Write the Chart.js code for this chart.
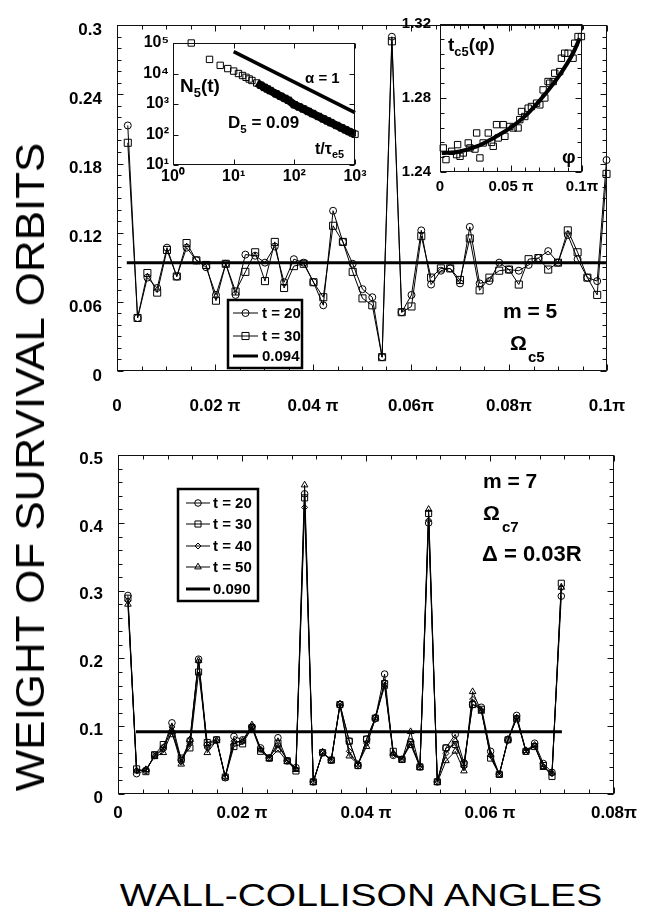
<!DOCTYPE html>
<html>
<head>
<meta charset="utf-8">
<script src="https://cdn.jsdelivr.net/npm/chart.js"></script>
<style>
  body { margin: 0; background: #fff; width: 665px; height: 920px; position: relative; overflow: hidden;
         font-family: "Liberation Sans", Arial, sans-serif; color: #000; }
  canvas { position: absolute; }
  .t { position: absolute; white-space: nowrap; font-weight: bold; line-height: 1; }
  .t sub { font-size: 0.68em; vertical-align: -0.4em; line-height: 0; }
  .title { position: absolute; white-space: nowrap; line-height: 1; font-weight: normal; }
</style>
</head>
<body>
<canvas id="top" width="665" height="440" style="left:0;top:0"></canvas>
<canvas id="bottom" width="665" height="440" style="left:0;top:430px"></canvas>
<canvas id="inset1" width="270" height="190" style="left:100px;top:20px"></canvas>
<canvas id="inset2" width="285" height="220" style="left:380px;top:0"></canvas>

<div class="title" style="left:30px;top:467px;font-size:40px;transform:translate(-50%,-50%) rotate(-90deg) scaleX(1.1)">WEIGHT OF SURVIVAL ORBITS</div>
<div class="title" style="left:361px;top:895px;font-size:32px;transform:translate(-50%,-50%) scaleX(1.22)">WALL-COLLISON ANGLES</div>

<div class="t" style="left:503px;top:300px;font-size:21px">m = 5</div>
<div class="t" style="left:510px;top:332px;font-size:21px">Ω</div>
<div class="t" style="left:528px;top:349px;font-size:15px">c5</div>

<div class="t" style="left:483px;top:470px;font-size:21px">m = 7</div>
<div class="t" style="left:483px;top:502px;font-size:21px">Ω</div>
<div class="t" style="left:502px;top:519px;font-size:15px">c7</div>
<div class="t" style="left:482px;top:543px;font-size:22px">Δ = 0.03R</div>

<div class="t" style="left:180px;top:76px;font-size:19px">N<sub>5</sub>(t)</div>
<div class="t" style="left:305px;top:70px;font-size:15px">α = 1</div>
<div class="t" style="left:228px;top:114px;font-size:17px">D<sub>5</sub> = 0.09</div>
<div class="t" style="left:315px;top:141px;font-size:16px">t/τ<sub>e5</sub></div>

<div class="t" style="left:448px;top:35px;font-size:19px">t<sub>c5</sub>(φ)</div>
<div class="t" style="left:562px;top:147px;font-size:19px">φ</div>

<script>
// top panel, m = 5 (angles in units of pi)
const topAngle = [0.0022, 0.0042, 0.0062, 0.0082, 0.0102, 0.0122, 0.0142, 0.0162, 0.0182, 0.0202,
  0.0222, 0.0242, 0.0262, 0.0282, 0.0302, 0.0322, 0.0341, 0.0361, 0.0381, 0.0401,
  0.0421, 0.0441, 0.0461, 0.0481, 0.0501, 0.0521, 0.0541, 0.0561, 0.0581, 0.0601,
  0.0621, 0.0641, 0.0661, 0.0680, 0.0700, 0.0720, 0.0740, 0.0760, 0.0780, 0.0800,
  0.0820, 0.0840, 0.0860, 0.0880, 0.0900, 0.0920, 0.0940, 0.0960, 0.0980, 0.0999];
const topT20 = [0.213, 0.046, 0.081, 0.072, 0.107, 0.082, 0.107, 0.096, 0.090, 0.066,
  0.093, 0.066, 0.101, 0.100, 0.094, 0.108, 0.077, 0.097, 0.094, 0.077,
  0.057, 0.139, 0.112, 0.093, 0.071, 0.064, 0.012, 0.290, 0.051, 0.066,
  0.122, 0.075, 0.087, 0.089, 0.076, 0.125, 0.076, 0.078, 0.094, 0.088,
  0.087, 0.092, 0.098, 0.104, 0.094, 0.118, 0.097, 0.081, 0.078, 0.183];
const topT30 = [0.198, 0.046, 0.085, 0.068, 0.105, 0.082, 0.111, 0.096, 0.092, 0.061,
  0.093, 0.069, 0.086, 0.103, 0.078, 0.112, 0.072, 0.091, 0.093, 0.077,
  0.064, 0.126, 0.112, 0.086, 0.063, 0.057, 0.012, 0.286, 0.051, 0.056,
  0.117, 0.081, 0.089, 0.089, 0.079, 0.115, 0.070, 0.081, 0.087, 0.088,
  0.075, 0.097, 0.098, 0.088, 0.094, 0.122, 0.103, 0.081, 0.066, 0.171];
const topMean = 0.094;
const topMeanSpan = [0.002, 0.1];
const topXTicks = [0, 0.02, 0.04, 0.06, 0.08, 0.1];
const topXLabels = ['0', '0.02 π', '0.04 π', '0.06π', '0.08π', '0.1π'];
const topYTicks = [0, 0.06, 0.12, 0.18, 0.24, 0.3];
const topYLabels = ['0', '0.06', '0.12', '0.18', '0.24', '0.3'];

// bottom panel, m = 7
const botAngle = [0.0016, 0.0030, 0.0045, 0.0059, 0.0073, 0.0087, 0.0102, 0.0116, 0.0130, 0.0144,
  0.0159, 0.0173, 0.0187, 0.0201, 0.0216, 0.0230, 0.0244, 0.0258, 0.0273, 0.0287,
  0.0301, 0.0315, 0.0330, 0.0344, 0.0358, 0.0373, 0.0387, 0.0401, 0.0415, 0.0430,
  0.0444, 0.0458, 0.0472, 0.0487, 0.0501, 0.0515, 0.0529, 0.0544, 0.0558, 0.0572,
  0.0586, 0.0601, 0.0615, 0.0629, 0.0643, 0.0658, 0.0672, 0.0686, 0.0700, 0.0715];
const botT20 = [0.293, 0.030, 0.035, 0.057, 0.068, 0.105, 0.050, 0.079, 0.199, 0.072,
  0.080, 0.024, 0.085, 0.080, 0.099, 0.068, 0.053, 0.083, 0.049, 0.039,
  0.443, 0.018, 0.061, 0.050, 0.132, 0.078, 0.042, 0.081, 0.112, 0.177,
  0.057, 0.051, 0.077, 0.040, 0.400, 0.018, 0.068, 0.088, 0.046, 0.132,
  0.128, 0.063, 0.029, 0.080, 0.116, 0.063, 0.075, 0.045, 0.032, 0.292];
const botT30 = [0.289, 0.037, 0.033, 0.058, 0.073, 0.089, 0.053, 0.068, 0.180, 0.076,
  0.080, 0.025, 0.070, 0.074, 0.098, 0.063, 0.053, 0.075, 0.049, 0.034,
  0.437, 0.018, 0.061, 0.050, 0.132, 0.078, 0.042, 0.081, 0.112, 0.163,
  0.063, 0.051, 0.073, 0.040, 0.414, 0.018, 0.068, 0.073, 0.044, 0.132,
  0.125, 0.053, 0.029, 0.080, 0.111, 0.063, 0.070, 0.042, 0.026, 0.311];
const botT40 = [0.285, 0.035, 0.035, 0.056, 0.066, 0.099, 0.047, 0.074, 0.195, 0.068,
  0.078, 0.025, 0.078, 0.077, 0.099, 0.066, 0.054, 0.072, 0.050, 0.037,
  0.423, 0.019, 0.060, 0.051, 0.130, 0.063, 0.043, 0.075, 0.110, 0.165,
  0.058, 0.052, 0.077, 0.041, 0.404, 0.019, 0.060, 0.078, 0.040, 0.140,
  0.124, 0.057, 0.030, 0.079, 0.113, 0.062, 0.071, 0.040, 0.030, 0.304];
const botT50 = [0.280, 0.034, 0.036, 0.055, 0.061, 0.092, 0.044, 0.080, 0.197, 0.061,
  0.079, 0.026, 0.075, 0.078, 0.102, 0.065, 0.052, 0.065, 0.048, 0.036,
  0.456, 0.017, 0.062, 0.049, 0.133, 0.056, 0.044, 0.070, 0.113, 0.159,
  0.060, 0.050, 0.092, 0.039, 0.420, 0.017, 0.049, 0.063, 0.034, 0.151,
  0.122, 0.058, 0.028, 0.081, 0.112, 0.064, 0.072, 0.039, 0.031, 0.305];
const botMean = 0.092;
const botMeanSpan = [0.0029, 0.0716];
const botXTicks = [0, 0.02, 0.04, 0.06, 0.08];
const botXLabels = ['0', '0.02 π', '0.04 π', '0.06 π', '0.08π'];
const botYTicks = [0, 0.1, 0.2, 0.3, 0.4, 0.5];
const botYLabels = ['0', '0.1', '0.2', '0.3', '0.4', '0.5'];

// inset: N5(t), log-log
const insetT = [2, 4, 6, 8, 10, 12, 14, 16, 18, 20, 24, 28, 32, 36, 40, 50, 60, 70, 80, 100,
  120, 140, 170, 200, 250, 300, 350, 400, 500, 600, 700, 800, 900, 1000];
const insetN = [1.0e5, 2.9e4, 1.85e4, 1.45e4, 1.2e4, 1.0e4, 8.6e3, 7.5e3, 6.6e3, 5.9e3,
  4.9e3, 4.1e3, 3.5e3, 3.1e3, 2.75e3, 2.15e3, 1.78e3, 1.52e3, 1.32e3, 950,
  800, 690, 570, 485, 390, 325, 280, 245, 197, 165, 142, 125, 112, 102];
const alphaT = [10, 1000];
const alphaN = [5.2e4, 520];
const insetXTicks = [1, 10, 100, 1000];
const insetXLabels = ['10⁰', '10¹', '10²', '10³'];
const insetYTicks = [10, 100, 1000, 10000, 100000];
const insetYLabels = ['10¹', '10²', '10³', '10⁴', '10⁵'];

// inset: tc5(phi)
const phiSq = [0.0023, 0.0042, 0.0082, 0.0117, 0.0124, 0.0141, 0.0164, 0.0199, 0.0211, 0.0246,
  0.0258, 0.0281, 0.0304, 0.0340, 0.0363, 0.0375, 0.0398, 0.0410, 0.0445, 0.0457,
  0.0492, 0.0515, 0.0550, 0.0562, 0.0574, 0.0597, 0.0621, 0.0644, 0.0680, 0.0703,
  0.0726, 0.0738, 0.0761, 0.0773, 0.0797, 0.0808, 0.0843, 0.0855, 0.0878, 0.0902,
  0.0937, 0.0949, 0.0972, 0.0996];
const tcSq = [1.2530, 1.2467, 1.2512, 1.2494, 1.2548, 1.2485, 1.2503, 1.2557, 1.2530, 1.2524,
  1.2611, 1.2476, 1.2557, 1.2611, 1.2560, 1.2539, 1.2656, 1.2584, 1.2656, 1.2593,
  1.2646, 1.2638, 1.2638, 1.2683, 1.2727, 1.2700, 1.2745, 1.2754, 1.2772, 1.2763,
  1.2844, 1.2800, 1.2889, 1.2880, 1.2889, 1.2934, 1.2943, 1.3015, 1.3042, 1.3042,
  1.3015, 1.3096, 1.3132, 1.3132];
const phiFit = [0.0012, 0.0141, 0.0258, 0.0375, 0.0492, 0.0609, 0.0726, 0.0843, 0.0937, 0.0984];
const tcFit = [1.2502, 1.2511, 1.2538, 1.2583, 1.2637, 1.2709, 1.2808, 1.2925, 1.3042, 1.3123];
const insetPhiTicks = [0, 0.05, 0.1];
const insetPhiLabels = ['0', '0.05 π', '0.1π'];
const insetTcTicks = [1.24, 1.28, 1.32];
const insetTcLabels = ['1.24', '1.28', '1.32'];

const FONT = '"Liberation Sans", Arial, sans-serif';
const pts = (xs, ys) => xs.map((x, i) => ({ x: x, y: ys[i] }));

function series(label, xs, ys, style, r, w, extra) {
  return Object.assign({
    label: label, data: pts(xs, ys), showLine: true, tension: 0, clip: false,
    borderColor: '#000', borderWidth: w, pointStyle: style, pointRadius: r,
    pointBorderColor: '#000', pointBackgroundColor: 'rgba(0,0,0,0)', pointBorderWidth: 1
  }, extra || {});
}

function axis(ticks, labels, c) {
  return {
    type: c.type || 'linear', min: ticks[0], max: ticks[ticks.length - 1],
    grid: { display: false, drawTicks: false }, border: { display: false },
    afterBuildTicks: s => { s.ticks = ticks.map(v => ({ value: v })); },
    afterFit: s => { if (s.isHorizontal()) s.height = c.fit; else s.width = c.fit; },
    ticks: {
      autoSkip: false, maxRotation: 0, minRotation: 0, color: '#000',
      padding: c.pad, labelOffset: c.offset || 0,
      font: { family: FONT, size: c.size, weight: 'bold' },
      callback: (v, i) => labels[i]
    }
  };
}

function base(c) {
  return {
    responsive: false, animation: false, events: [],
    layout: { padding: c.padding },
    plugins: { legend: { display: false }, tooltip: { enabled: false },
               frameTicks: c.frame, boxLegend: c.legend || {} },
    scales: { x: c.x, y: c.y }
  };
}

// inward ticks on all four sides, plus the frame
function tickList(scale, spec) {
  const out = [];
  if (spec.log) {
    for (let e = Math.round(Math.log10(scale.min)); e <= Math.round(Math.log10(scale.max)); e++) {
      out.push({ value: Math.pow(10, e), len: 5 });
    }
    return out;
  }
  const n = Math.round((scale.max - scale.min) / spec.minor);
  const per = Math.round(spec.major / spec.minor);
  for (let i = 0; i <= n; i++) out.push({ value: scale.min + i * spec.minor, len: i % per === 0 ? 6 : 4 });
  return out;
}

const frameTicks = {
  id: 'frameTicks',
  afterDatasetsDraw(chart, args, o) {
    const ctx = chart.ctx, a = chart.chartArea;
    const sx = chart.scales.x, sy = chart.scales.y;
    const L = Math.round(a.left) + 0.5, R = Math.round(a.right) - 0.5;
    const T = Math.round(a.top) + 0.5, B = Math.round(a.bottom) - 0.5;
    ctx.save();
    ctx.strokeStyle = '#111';
    ctx.lineWidth = 1;
    ctx.strokeRect(L, T, R - L, B - T);
    ctx.beginPath();
    tickList(sx, o.x).forEach(t => {
      const p = Math.round(sx.getPixelForValue(t.value)) + 0.5;
      ctx.moveTo(p, B); ctx.lineTo(p, B - t.len);
      ctx.moveTo(p, T); ctx.lineTo(p, T + t.len);
    });
    tickList(sy, o.y).forEach(t => {
      const p = Math.round(sy.getPixelForValue(t.value)) + 0.5;
      ctx.moveTo(L, p); ctx.lineTo(L + t.len, p);
      ctx.moveTo(R, p); ctx.lineTo(R - t.len, p);
    });
    ctx.stroke();
    ctx.restore();
  }
};

function marker(ctx, style, x, y, r) {
  ctx.beginPath();
  if (style === 'circle') {
    ctx.arc(x, y, r, 0, Math.PI * 2);
  } else if (style === 'rect') {
    const s = r * Math.SQRT1_2;
    ctx.rect(x - s, y - s, 2 * s, 2 * s);
  } else if (style === 'rectRot') {
    ctx.moveTo(x, y - r); ctx.lineTo(x + r, y); ctx.lineTo(x, y + r); ctx.lineTo(x - r, y); ctx.closePath();
  } else if (style === 'triangle') {
    for (let k = 0; k < 3; k++) {
      const ang = k * 2 * Math.PI / 3;
      const px = x + Math.sin(ang) * r, py = y - Math.cos(ang) * r;
      if (k === 0) ctx.moveTo(px, py); else ctx.lineTo(px, py);
    }
    ctx.closePath();
  }
  ctx.lineWidth = 1;
  ctx.stroke();
}

// boxed legend placed inside the plot, built from the datasets
const boxLegend = {
  id: 'boxLegend',
  afterDraw(chart, args, o) {
    if (!o.box) return;
    const ctx = chart.ctx;
    const bx = o.box[0], by = o.box[1], bw = o.box[2], bh = o.box[3];
    ctx.save();
    ctx.fillStyle = '#fff';
    ctx.fillRect(bx, by, bw, bh);
    ctx.strokeStyle = '#000';
    ctx.lineWidth = 2.5;
    ctx.strokeRect(bx, by, bw, bh);
    ctx.font = o.font;
    ctx.textBaseline = 'middle';
    chart.data.datasets.forEach((ds, i) => {
      const y = o.rows[i];
      ctx.strokeStyle = '#000';
      ctx.lineWidth = ds.borderWidth;
      ctx.beginPath();
      ctx.moveTo(o.x0, y); ctx.lineTo(o.x1, y);
      ctx.stroke();
      if (ds.pointRadius > 0) marker(ctx, ds.pointStyle, (o.x0 + o.x1) / 2, y, ds.pointRadius);
      ctx.fillStyle = '#000';
      ctx.fillText(ds.label, o.tx, y + 1);
    });
    ctx.restore();
  }
};

new Chart(document.getElementById('top'), {
  type: 'scatter',
  data: { datasets: [
    series('t = 20', topAngle, topT20, 'circle', 3.5, 1),
    series('t = 30', topAngle, topT30, 'rect', 5, 1),
    series('0.094', topMeanSpan, topMeanSpan.map(() => topMean), 'circle', 0, 3)
  ] },
  options: base({
    padding: { left: 57, right: 58, top: 8, bottom: 19 },
    x: axis(topXTicks, topXLabels, { size: 17, pad: 25, fit: 50 }),
    y: axis(topYTicks, topYLabels, { size: 17, pad: 15, fit: 60, offset: 5 }),
    frame: { x: { major: 0.02, minor: 0.005 }, y: { major: 0.06, minor: 0.01 } },
    legend: { box: [228, 300, 74, 68], x0: 233, x1: 258, tx: 262, rows: [313, 336, 356],
              font: 'bold 15px ' + FONT }
  }),
  plugins: [frameTicks, boxLegend]
});

new Chart(document.getElementById('bottom'), {
  type: 'scatter',
  data: { datasets: [
    series('t = 20', botAngle, botT20, 'circle', 3.3, 1),
    series('t = 30', botAngle, botT30, 'rect', 4.3, 1),
    series('t = 40', botAngle, botT40, 'rectRot', 3, 1),
    series('t = 50', botAngle, botT50, 'triangle', 3.8, 1),
    series('0.090', botMeanSpan, botMeanSpan.map(() => botMean), 'circle', 0, 3)
  ] },
  options: base({
    padding: { left: 58, right: 51, top: 15, bottom: 36 },
    x: axis(botXTicks, botXLabels, { size: 17, pad: 9, fit: 40 }),
    y: axis(botYTicks, botYLabels, { size: 17, pad: 15, fit: 60, offset: 4 }),
    frame: { x: { major: 0.02, minor: 0.004 }, y: { major: 0.1, minor: 0.02 } },
    legend: { box: [178, 59, 80, 112], x0: 186, x1: 210, tx: 213, rows: [73, 94, 116, 137, 159],
              font: 'bold 15px ' + FONT }
  }),
  plugins: [frameTicks, boxLegend]
});

new Chart(document.getElementById('inset1'), {
  type: 'scatter',
  data: { datasets: [
    series('', insetT, insetN, 'rect', 4.5, 0, { showLine: false }),
    series('', insetT.slice(10), insetN.slice(10), 'rect', 0, 8),
    series('', alphaT, alphaN, 'circle', 0, 3.5)
  ] },
  options: base({
    padding: { left: 23, right: 15, top: 23, bottom: 15 },
    x: axis(insetXTicks, insetXLabels, { type: 'logarithmic', size: 16, pad: 2, fit: 30 }),
    y: axis(insetYTicks, insetYLabels, { type: 'logarithmic', size: 16, pad: 4, fit: 50 }),
    frame: { x: { log: true }, y: { log: true } }
  }),
  plugins: [frameTicks]
});

new Chart(document.getElementById('inset2'), {
  type: 'scatter',
  data: { datasets: [
    series('', phiSq, tcSq, 'rect', 4.5, 0, { showLine: false }),
    series('', phiFit, tcFit, 'circle', 0, 4, { cubicInterpolationMode: 'monotone' })
  ] },
  options: base({
    padding: { left: 10, right: 83, top: 24, bottom: 18 },
    x: axis(insetPhiTicks, insetPhiLabels, { size: 15, pad: 6, fit: 30 }),
    y: axis(insetTcTicks, insetTcLabels, { size: 15, pad: 9, fit: 50 }),
    frame: { x: { major: 0.05, minor: 0.01 }, y: { major: 0.04, minor: 0.008 } }
  }),
  plugins: [frameTicks]
});
</script>
</body>
</html>
